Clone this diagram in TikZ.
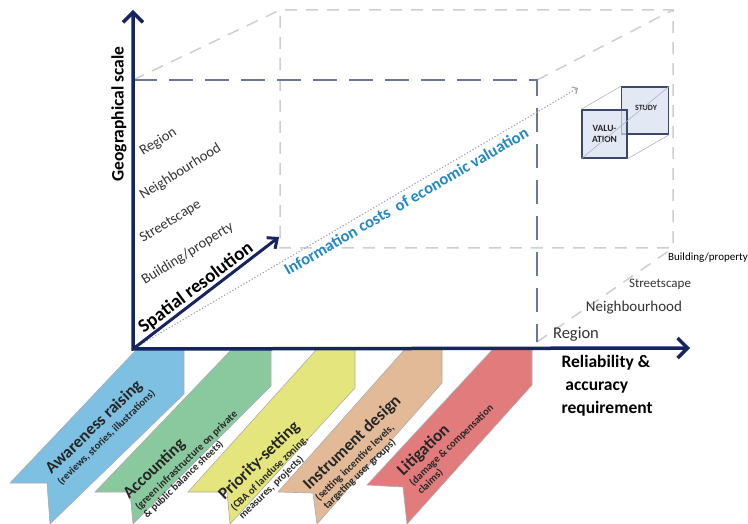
\documentclass[tikz,border=0pt]{standalone}
\usepackage{fontspec}
\setmainfont{Carlito}
\usetikzlibrary{arrows.meta, positioning}
\definecolor{axis-navy}{RGB}{22,36,98}
\definecolor{frame-slate}{RGB}{108,118,150}
\definecolor{frame-light}{RGB}{204,206,212}
\definecolor{cost-blue}{RGB}{35,135,195}
\definecolor{cost-dot}{RGB}{170,160,178}
\definecolor{band-blue}{RGB}{125,192,226}
\definecolor{band-green}{RGB}{138,200,158}
\definecolor{band-yellow}{RGB}{228,230,125}
\definecolor{band-tan}{RGB}{226,186,152}
\definecolor{band-red}{RGB}{226,124,124}
\definecolor{cube-fill}{RGB}{214,223,240}
\definecolor{cube-line}{RGB}{60,72,105}

\begin{document}
\begin{tikzpicture}[x=1pt, y=-1pt,
    axis/.style={draw=axis-navy, line width=3.5pt, -{Straight Barb[length=10pt, width=20pt]}},
    frame/.style={draw=frame-slate, line width=2.6pt, dash pattern=on 24pt off 12pt},
    ghost/.style={draw=frame-light, line width=1.5pt, dash pattern=on 12pt off 9pt},
    scale label/.style={font=\fontsize{14.5}{16}\selectfont, text=black!80, anchor=base west, rotate=32, inner sep=0pt},
    depth label/.style={text=black!80, inner sep=0pt},
    band/.style={draw=gray!65, line width=0.6pt},
    band text/.style={rotate=44, align=left, text=black!85, inner sep=0pt, font=\bfseries\fontsize{10.5}{11.5}\selectfont},
    cube/.style={draw=cube-line, line width=1.4pt, fill=cube-fill, fill opacity=0.7, text opacity=1, text=black!85, align=center, font=\bfseries\fontsize{9.5}{11}\selectfont}
]
\useasboundingbox (0,0) rectangle (748,524);

\coordinate (O) at (133,349);
\coordinate (gtop) at (133,10);
\coordinate (xend) at (690,348);
\coordinate (sres) at (279,237);
\coordinate (cend) at (578,88);
\coordinate (f1) at (133,80);
\coordinate (f2) at (537,80);
\coordinate (f3) at (537,342);
\coordinate (b1) at (280,10);
\coordinate (b2) at (673,10);
\coordinate (b3) at (673,248);
\coordinate (b4) at (280,248);

% ribbons
\filldraw[band, fill=band-blue] (137,349) -- (184,349) -- (184,394) -- (50,524) -- (47,483) -- (10,483) -- cycle;
\filldraw[band, fill=band-green] (232,349) -- (271,349) -- (271,386) -- (133,524) -- (130,492) -- (95,492) -- cycle;
\filldraw[band, fill=band-yellow] (317,349) -- (355,349) -- (355,388) -- (230,524) -- (227,492) -- (188,492) -- cycle;
\filldraw[band, fill=band-tan] (405,349) -- (442,349) -- (442,383) -- (317,524) -- (313,493) -- (278,492) -- cycle;
\filldraw[band, fill=band-red] (493,349) -- (532,349) -- (532,385) -- (407,524) -- (403,487) -- (367,485) -- cycle;

\node[band text] (aware) at (100,431) {{\fontsize{17}{18}\selectfont Awareness raising}\\[3pt](reviews, stories, illustrations)};
\node[band text] (account) at (184,458) {{\fontsize{17}{18}\selectfont Accounting}\\[3pt](green infrastructure on private\\\& public balance sheets)};
\node[band text] (priority) at (268,470) {{\fontsize{17}{18}\selectfont Priority-setting}\\[3pt](CBA of landuse zoning,\\measures, projects)};
\node[band text] (instrument) at (361,452) {{\fontsize{17}{18}\selectfont Instrument design}\\[3pt](setting incentive levels,\\targeting user groups)};
\node[band text] (litigation) at (449,443) {{\fontsize{17}{18}\selectfont Litigation}\\[3pt](damage \& compensation\\claims)};

% box edges
\draw[ghost] (f1) -- (b1) -- (b2) -- (b3) -- (b4) -- (b1);
\draw[ghost] (f2) -- (b2);
\draw[ghost] (f3) -- (b3);
\draw[frame] (f1) -- (f2) -- (f3);

\draw[cost-dot, line width=1.2pt, dotted, -{Straight Barb[length=4pt, width=8pt]}] (O) -- (cend);
\draw[axis, {Straight Barb[length=10pt, width=20pt]}-{Straight Barb[length=10pt, width=20pt]}] (gtop) -- (O) -- (xend);
\draw[axis, line width=3pt, -{Straight Barb[length=8pt, width=14pt]}] (O) -- (sres);

\node[rotate=90, font=\bfseries\fontsize{17.5}{19}\selectfont] (geo) at (119,114) {Geographical scale};
\node[rotate=37, font=\bfseries\fontsize{19}{21}\selectfont] (spatial) at (196,288) {Spatial resolution};
\node[rotate=30, text=cost-blue, font=\bfseries\fontsize{16.5}{18}\selectfont] (costs) at (406,201) {Information costs\ \ of economic valuation};

\node[scale label] (reg) at (143,156) {Region};
\node[scale label] (nbh) at (143,200) {Neighbourhood};
\node[scale label] (str) at (143,243) {Streetscape};
\node[scale label] (bld) at (145,285) {Building/property};

\node[depth label, font=\fontsize{16.5}{18}\selectfont] (reg2) at (576,334) {Region};
\node[depth label, font=\fontsize{15}{16}\selectfont] (nbh2) at (634,308) {Neighbourhood};
\node[depth label, font=\fontsize{13}{14}\selectfont] (str2) at (660,284) {Streetscape};
\node[depth label, anchor=west, text=black, font=\fontsize{11}{12}\selectfont] (bld2) at (668,258) {Building/property};

\node[anchor=north west, align=left, font=\bfseries\fontsize{17.5}{23}\selectfont] (relia) at (558,352) {Reliability \&\\\ accuracy\\requirement};

\node[cube, minimum width=47pt, minimum height=47pt] (study) at (645,110.5) {};
\node[cube, minimum width=45pt, minimum height=48pt] (valu) at (604.5,134) {VALU-\\ATION};
\node[font=\bfseries\fontsize{8}{9}\selectfont, text=black!85] at (646,108) {STUDY};
\draw[frame-light!80!cube-line, line width=0.6pt] (valu.north west) -- (study.north west);
\draw[frame-light!80!cube-line, line width=0.6pt] (valu.south east) -- (study.south east);
\draw[frame-light!80!cube-line, line width=0.6pt] (valu.south west) -- (study.north east);
\end{tikzpicture}
\end{document}
